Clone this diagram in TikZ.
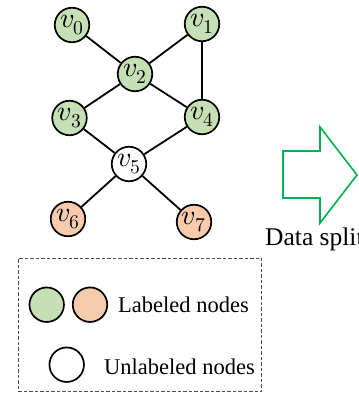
\documentclass[tikz,border=0pt]{standalone}
\usepackage{fontspec}
\setmainfont{Liberation Serif}
\usepackage{unicode-math}
\setmathfont{Latin Modern Math}
\definecolor{lblgreen}{HTML}{C5E0B4}
\definecolor{lblorange}{HTML}{F8CBAD}
\definecolor{arrowgreen}{HTML}{00B050}
\tikzset{
  vtx/.style={circle, draw=black, line width=1.7pt, minimum size=34.5pt, inner sep=0pt,
              font=\fontsize{28}{30}\selectfont},
  gnode/.style={vtx, fill=lblgreen},
  onode/.style={vtx, fill=lblorange},
  wnode/.style={vtx, fill=white},
  edge/.style={line width=1.8pt, black},
  lbltext/.style={font=\fontsize{22.5}{25}\selectfont, inner sep=0pt, anchor=base west},
}
\begin{document}
\begin{tikzpicture}[x=1pt,y=-1pt]
\useasboundingbox (0,0) rectangle (358,403);

% graph
\node[gnode] (v0) at (72,25)  {$v_0$};
\node[gnode] (v1) at (202,24) {$v_1$};
\node[gnode] (v2) at (135,74) {$v_2$};
\node[gnode] (v3) at (69.5,118) {$v_3$};
\node[gnode] (v4) at (202,117) {$v_4$};
\node[wnode] (v5) at (129,164) {$v_5$};
\node[onode] (v6) at (68,219) {$v_6$};
\node[onode] (v7) at (194,222) {$v_7$};

\draw[edge] (v0) -- (v2);
\draw[edge] (v1) -- (v2);
\draw[edge] (v1) -- (v4);
\draw[edge] (v2) -- (v3);
\draw[edge] (v2) -- (v4);
\draw[edge] (v3) -- (v5);
\draw[edge] (v4) -- (v5);
\draw[edge] (v5) -- (v6);
\draw[edge] (v5) -- (v7);

% block arrow
\draw[arrowgreen, line width=1.6pt, fill=white, line join=miter]
  (283,151) -- (320,151) -- (320,127) -- (357,175) -- (320,223) -- (320,198) -- (283,198) -- cycle;
\node[lbltext, font=\fontsize{25.5}{28}\selectfont] (split) at (265,245) {Data split};

% legend
\node[draw=black!70, dash pattern=on 3.5pt off 2pt, line width=0.9pt,
      minimum width=243.5pt, minimum height=133.5pt, inner sep=0pt] (legend) at (140,325) {};
\node[gnode] (lg) at (46.7,304.7) {};
\node[onode] (lo) at (90,304.7) {};
\node[wnode] (lw) at (66.7,364.7) {};
\node[lbltext] (tl) at (118,312.3) {Labeled nodes};
\node[lbltext] (tu) at (104,374) {Unlabeled nodes};
\end{tikzpicture}
\end{document}
